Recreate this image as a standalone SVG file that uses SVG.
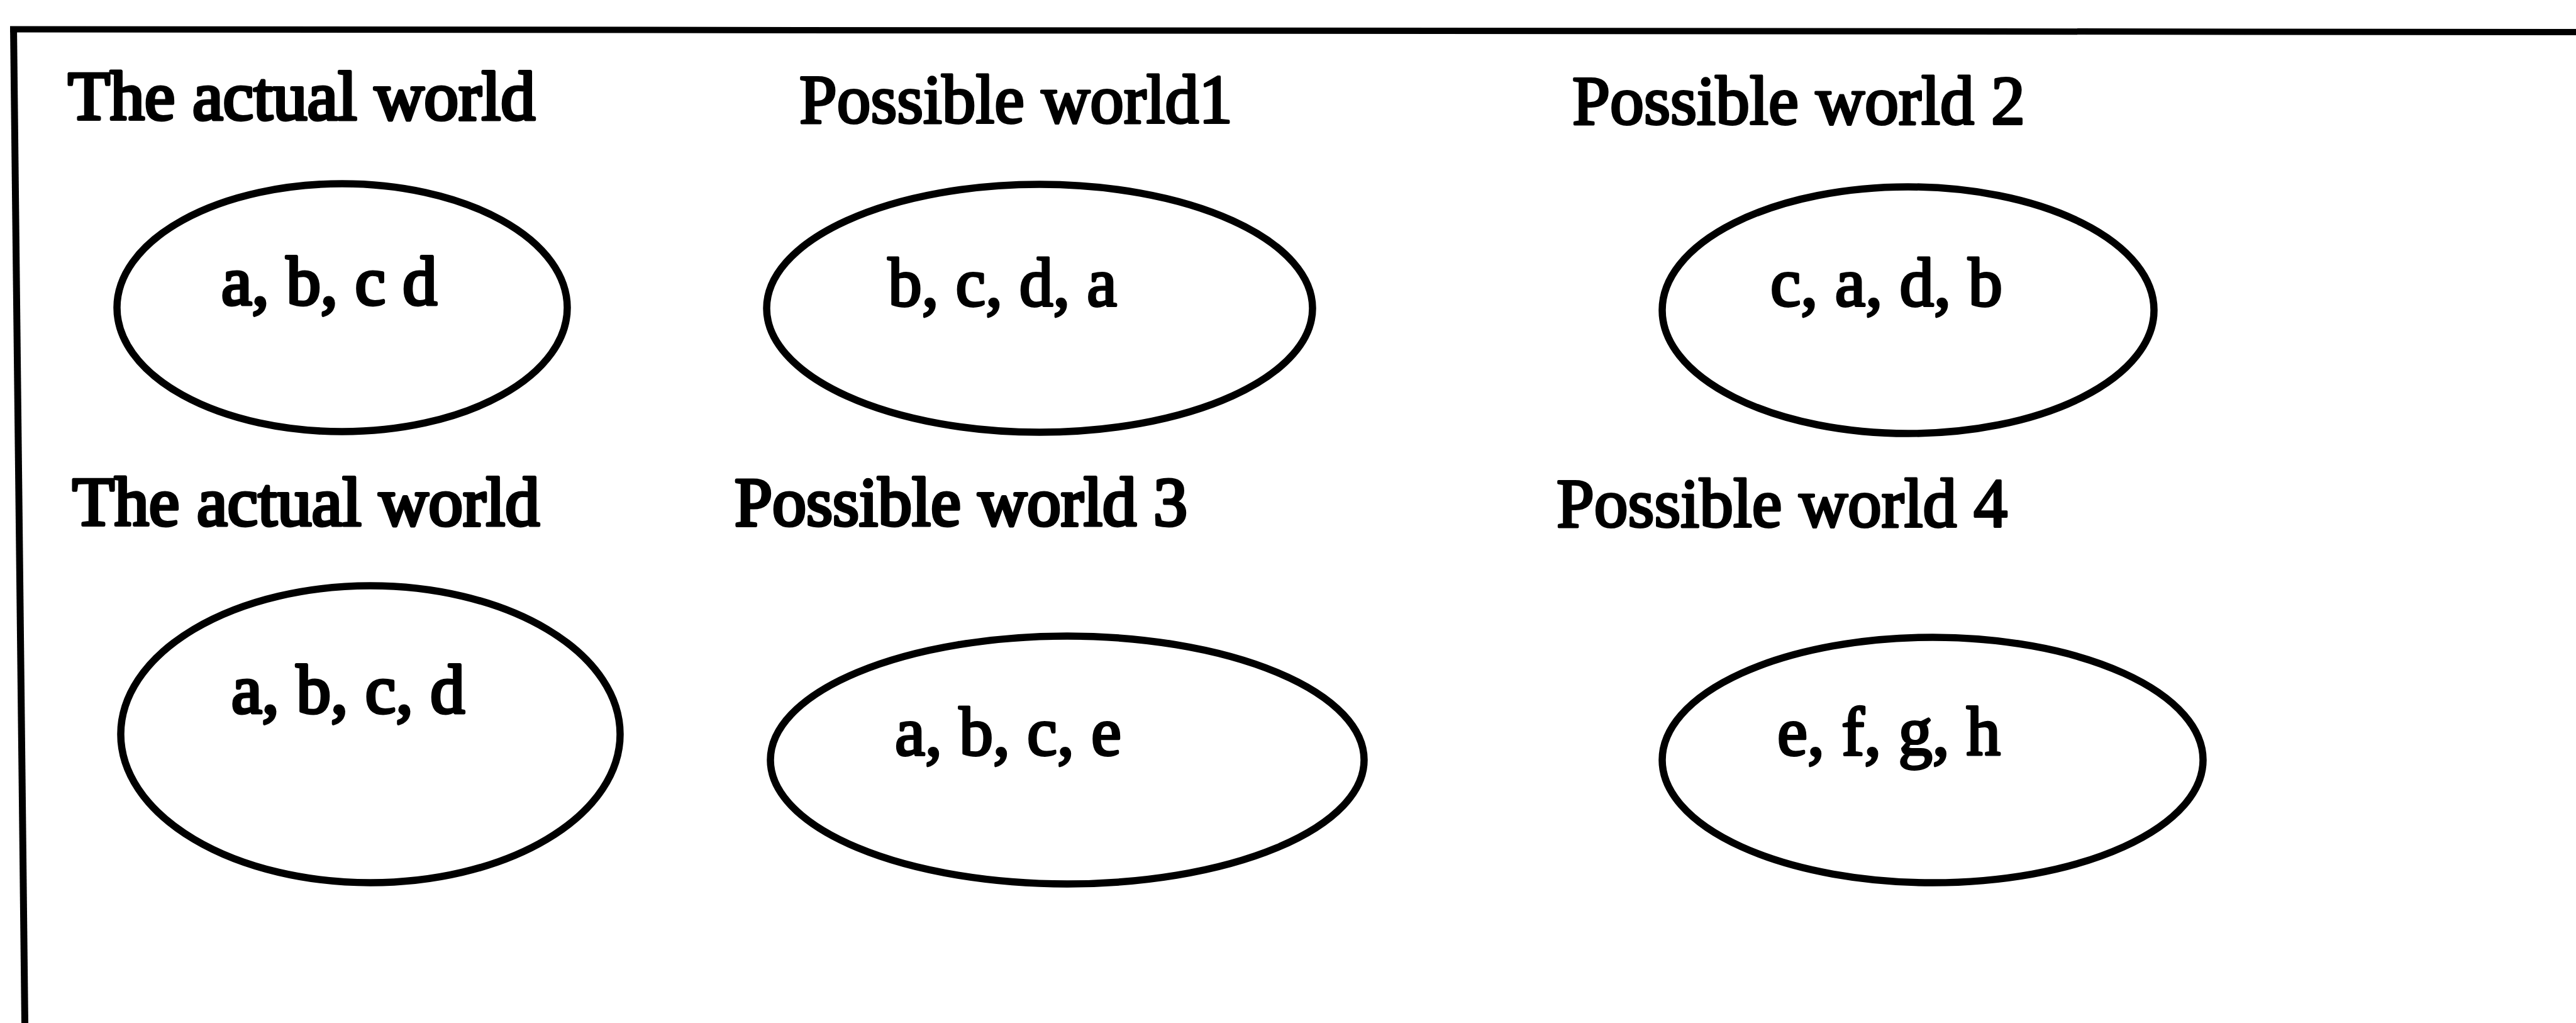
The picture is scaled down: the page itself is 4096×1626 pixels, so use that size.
<svg xmlns="http://www.w3.org/2000/svg" width="4096" height="1626" viewBox="0 0 4096 1626">
<style>
  .frame { stroke: #000; stroke-linecap: butt; fill: none; }
  .world { fill: none; stroke: #000; stroke-width: 11.5; }
  text { font-family: "Liberation Serif", "Times New Roman", serif; font-size: 110px; fill: #000; stroke: #000; stroke-linejoin: round; }
  .heavy { stroke-width: 5; }
  .light { stroke-width: 4; }
</style>
<rect x="0" y="0" width="4096" height="1626" fill="#fff"/>
<g id="frame">
  <line class="frame" x1="16" y1="46.5" x2="4096" y2="51" stroke-width="10"/>
  <line class="frame" x1="21.5" y1="42" x2="39.5" y2="1626" stroke-width="11"/>
</g>
<g id="connectors"></g>
<g id="actual-world-1">
  <text class="heavy" x="108" y="190" textLength="743" lengthAdjust="spacingAndGlyphs">The actual world</text>
  <ellipse class="world" cx="544" cy="489" rx="358" ry="197"/>
  <text class="heavy" x="352" y="484" textLength="343" lengthAdjust="spacingAndGlyphs">a, b, c d</text>
</g>
<g id="possible-world-1">
  <text class="light" x="1271" y="195" textLength="689" lengthAdjust="spacingAndGlyphs">Possible world1</text>
  <ellipse class="world" cx="1653" cy="490" rx="434" ry="197"/>
  <text class="light" x="1412" y="486" textLength="364" lengthAdjust="spacingAndGlyphs">b, c, d, a</text>
</g>
<g id="possible-world-2">
  <text class="light" x="2500" y="197" textLength="720" lengthAdjust="spacingAndGlyphs">Possible world 2</text>
  <ellipse class="world" cx="3034" cy="493" rx="391" ry="196"/>
  <text class="light" x="2815" y="486" textLength="369" lengthAdjust="spacingAndGlyphs">c, a, d, b</text>
</g>
<g id="actual-world-2">
  <text class="heavy" x="115" y="835" textLength="743" lengthAdjust="spacingAndGlyphs">The actual world</text>
  <ellipse class="world" cx="589" cy="1167" rx="397" ry="236"/>
  <text class="heavy" x="368" y="1133" textLength="371" lengthAdjust="spacingAndGlyphs">a, b, c, d</text>
</g>
<g id="possible-world-3">
  <text class="heavy" x="1168" y="835" textLength="720" lengthAdjust="spacingAndGlyphs">Possible world 3</text>
  <ellipse class="world" cx="1697" cy="1208" rx="472" ry="197"/>
  <text class="light" x="1423" y="1200" textLength="360" lengthAdjust="spacingAndGlyphs">a, b, c, e</text>
</g>
<g id="possible-world-4">
  <text class="light" x="2475" y="837" textLength="717" lengthAdjust="spacingAndGlyphs">Possible world 4</text>
  <ellipse class="world" cx="3073" cy="1208" rx="430" ry="195"/>
  <text class="light" x="2826" y="1200" textLength="355" lengthAdjust="spacingAndGlyphs">e, f, g, h</text>
</g>
</svg>
